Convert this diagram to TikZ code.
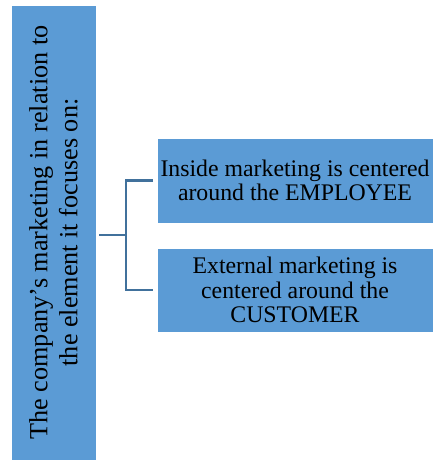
\documentclass[tikz,border=0pt]{standalone}
\usepackage{fontspec}
\setmainfont{Liberation Serif}
\usetikzlibrary{calc}
\definecolor{boxblue}{HTML}{5B9BD5}
\definecolor{linkblue}{HTML}{41719C}
\begin{document}
\begin{tikzpicture}[x=1pt,y=-1pt,
  bluebox/.style={fill=boxblue,draw=white,line width=0.6pt,inner sep=0pt,align=center,text=black},
  link/.style={draw=linkblue,line width=2.2pt}]
\useasboundingbox (0,0) rectangle (433,461);
\node[bluebox,rotate=90,minimum width=455pt,minimum height=85pt,
  font=\fontsize{26.2}{30}\selectfont] (main) at (53.5,232.5)
  {The company's marketing in relation to\\the element it focuses on:};
\node[bluebox,minimum width=276pt,minimum height=85pt,
  font=\fontsize{23.8}{24.5}\selectfont] (inside) at (295,180.5)
  {Inside marketing is centered\\around the EMPLOYEE};
\node[bluebox,minimum width=276pt,minimum height=84pt,
  font=\fontsize{23.8}{24.5}\selectfont] (external) at (295,290)
  {External marketing is\\centered around the\\CUSTOMER};
\coordinate (mid) at ($(inside.west)!0.5!(external.west)$);
\coordinate (fork) at (126,0);
\draw[link] ([xshift=3pt]main.south |- mid) -- (fork |- mid);
\draw[link] ([xshift=-3.5pt]inside.west) -- (fork |- inside.west) -- (fork |- external.west) -- ([xshift=-3.5pt]external.west);
\end{tikzpicture}
\end{document}
